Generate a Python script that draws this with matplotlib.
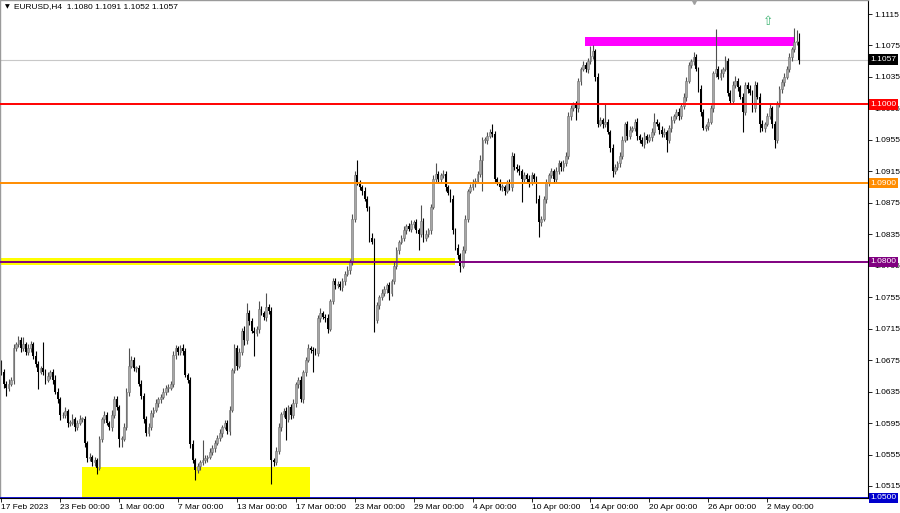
import numpy as np
import matplotlib.pyplot as plt
import matplotlib.transforms as mtransforms
from matplotlib.patches import Rectangle

plt.rcParams['font.family'] = ['Liberation Sans', 'DejaVu Sans']

# EURUSD H4 closes, in pips (1.0660 -> 10660), one per bar from 17 Feb 2023
closes = [
    10660, 10645, 10640, 10645, 10650, 10690, 10695, 10700, 10690, 10695,
    10685, 10690, 10695, 10680, 10670, 10660, 10665, 10660, 10650, 10655,
    10660, 10650, 10635, 10625, 10605, 10605, 10610, 10595, 10595, 10600,
    10590, 10595, 10600, 10600, 10570, 10550, 10552, 10545, 10548, 10538,
    10575, 10600, 10605, 10595, 10590, 10605, 10625, 10615, 10575, 10575,
    10590, 10635, 10668, 10675, 10665, 10665, 10645, 10630, 10600, 10582,
    10590, 10608, 10612, 10620, 10625, 10628, 10635, 10640, 10640, 10645,
    10682, 10690, 10685, 10690, 10686, 10656, 10650, 10568, 10548, 10535,
    10540, 10545, 10548, 10550, 10552, 10558, 10563, 10570, 10576, 10582,
    10590, 10595, 10585, 10612, 10662, 10690, 10668, 10685, 10712, 10700,
    10735, 10725, 10712, 10710, 10714, 10740, 10735, 10730, 10742, 10738,
    10548, 10545, 10560, 10590, 10606, 10610, 10600, 10615, 10605, 10620,
    10644, 10650, 10625, 10660, 10675, 10690, 10688, 10686, 10684, 10728,
    10735, 10730, 10728, 10715, 10750, 10775, 10770, 10772, 10768, 10775,
    10785, 10790, 10800, 10855, 10910, 10900, 10895, 10890, 10880, 10868,
    10830, 10825, 10726, 10745, 10755, 10760, 10765, 10770, 10760, 10775,
    10795, 10815, 10825, 10830, 10840, 10845, 10842, 10848, 10850, 10840,
    10835, 10852, 10830, 10835, 10840, 10870, 10905, 10912, 10905, 10910,
    10912, 10895, 10888, 10880, 10840, 10818, 10808, 10795, 10815, 10855,
    10890, 10895, 10900, 10903, 10912, 10930, 10955, 10955, 10960, 10965,
    10962, 10905, 10900, 10895, 10895, 10890, 10900, 10895, 10935, 10920,
    10918, 10915, 10905, 10910, 10905, 10900, 10910, 10905, 10880, 10850,
    10855, 10880, 10900, 10910, 10915, 10905, 10915, 10925, 10920, 10925,
    10935, 10985, 10995, 11000, 10995, 11030, 11045, 11050, 11045, 11055,
    11062, 11068, 11035, 10975, 10980, 10975, 10978, 10965, 10945, 10915,
    10920, 10925, 10935, 10955, 10975, 10960, 10968, 10970, 10978, 10960,
    10955, 10950, 10960, 10955, 10958, 10965, 10978, 10975, 10968, 10962,
    10965, 10955, 10970, 10980, 10985, 10990, 10985, 10998, 11010, 11030,
    11050, 11055, 11060, 11045, 11020, 10990, 10970, 10972, 10978, 10995,
    11040, 11045, 11035, 11040, 11045, 11055, 11015, 11005, 11025, 11030,
    11022, 11010, 10990, 11025, 11020, 11015, 10995, 11025, 11010, 10975,
    10970, 10975, 10985, 10995, 10975, 10955, 11000, 11020, 11028, 11035,
    11045, 11060, 11070, 11080, 11080, 11057,
]
first_open = 10670

# wick length above / below the body, in pips
wick_up = [
    5, 4, 3, 6, 4, 5, 3, 6, 4, 10, 3, 5, 4, 3, 6, 4, 3, 33, 4, 5,
    3, 4, 6, 5, 3, 4, 5, 3, 4, 6, 3, 4, 5, 3, 4, 2, 5, 3, 4, 3,
    4, 3, 5, 4, 3, 6, 5, 4, 3, 4, 5, 4, 22, 5, 4, 3, 4, 5, 3, 4,
    5, 3, 4, 6, 3, 4, 5, 3, 4, 3, 5, 4, 3, 4, 5, 4, 3, 4, 5, 3,
    4, 3, 25, 4, 3, 5, 4, 3, 4, 5, 3, 4, 4, 5, 3, 6, 4, 5, 4, 6,
    13, 4, 3, 5, 4, 10, 4, 3, 18, 4, 5, 3, 4, 5, 3, 4, 5, 3, 4, 5,
    3, 4, 5, 3, 4, 6, 3, 4, 5, 4, 6, 3, 4, 5, 3, 4, 5, 3, 4, 4,
    3, 5, 4, 6, 5, 19, 4, 3, 5, 4, 3, 6, 5, 4, 3, 5, 4, 3, 4, 3,
    5, 4, 3, 4, 5, 3, 4, 5, 3, 4, 3, 20, 4, 5, 3, 4, 5, 13, 4, 3,
    5, 4, 3, 4, 5, 3, 4, 3, 5, 4, 3, 4, 5, 3, 4, 6, 4, 3, 5, 4,
    10, 4, 3, 5, 4, 3, 4, 5, 5, 3, 4, 5, 3, 4, 3, 5, 4, 3, 4, 5,
    3, 4, 5, 3, 4, 3, 5, 4, 3, 4, 5, 6, 4, 3, 5, 4, 3, 5, 4, 4,
    12, 7, 3, 5, 4, 3, 22, 4, 3, 5, 4, 3, 4, 5, 3, 4, 5, 3, 4, 5,
    3, 4, 5, 3, 4, 5, 11, 4, 3, 4, 5, 3, 4, 5, 3, 4, 5, 3, 4, 5,
    4, 3, 7, 4, 3, 5, 4, 3, 5, 4, 3, 51, 4, 5, 3, 6, 4, 3, 5, 6,
    4, 3, 5, 4, 3, 5, 4, 5, 3, 4, 5, 3, 4, 5, 3, 4, 5, 3, 4, 5,
    4, 5, 3, 17, 15, 11,
]
wick_dn = [
    4, 5, 10, 4, 3, 5, 4, 3, 5, 4, 3, 4, 5, 3, 4, 22, 3, 4, 5, 3,
    4, 5, 3, 4, 6, 3, 4, 5, 4, 3, 5, 4, 3, 4, 5, 4, 3, 5, 4, 8,
    3, 4, 5, 3, 4, 5, 3, 4, 10, 10, 3, 4, 5, 3, 4, 5, 3, 4, 5, 4,
    3, 4, 5, 3, 4, 5, 3, 4, 5, 3, 4, 5, 3, 4, 5, 3, 4, 5, 4, 12,
    4, 5, 3, 4, 5, 3, 4, 5, 3, 4, 5, 3, 4, 5, 3, 4, 5, 3, 4, 6,
    4, 5, 3, 30, 4, 5, 3, 4, 5, 4, 30, 5, 3, 4, 5, 3, 27, 4, 5, 3,
    4, 5, 3, 4, 5, 3, 4, 26, 3, 4, 5, 3, 4, 5, 3, 4, 5, 3, 4, 5,
    4, 3, 5, 4, 5, 3, 4, 5, 3, 4, 5, 3, 15, 4, 5, 3, 4, 5, 9, 4,
    3, 4, 5, 3, 4, 5, 3, 4, 5, 3, 20, 4, 5, 3, 4, 5, 3, 4, 5, 3,
    4, 5, 3, 4, 5, 3, 4, 8, 3, 4, 5, 3, 4, 5, 3, 4, 40, 4, 5, 3,
    4, 5, 3, 4, 5, 5, 3, 4, 5, 3, 4, 5, 29, 3, 4, 5, 3, 4, 5, 18,
    4, 3, 5, 4, 3, 5, 4, 3, 5, 4, 3, 4, 5, 3, 15, 4, 5, 3, 4, 5,
    3, 4, 5, 4, 3, 5, 4, 3, 5, 7, 4, 3, 5, 4, 3, 5, 4, 3, 4, 5,
    4, 3, 5, 4, 3, 5, 4, 3, 5, 4, 3, 15, 4, 5, 3, 4, 5, 3, 4, 5,
    3, 4, 5, 3, 4, 5, 3, 4, 5, 3, 4, 5, 3, 4, 5, 3, 4, 5, 3, 4,
    5, 3, 25, 4, 5, 3, 4, 5, 3, 10, 4, 5, 3, 4, 5, 10, 4, 3, 5, 4,
    3, 4, 5, 3, 4, 5,
]

x_tick_bars = [0, 24, 48, 72, 96, 120, 144, 168, 192, 216, 240, 264, 288, 312]
x_tick_labels = ["17 Feb 2023", "23 Feb 00:00", "1 Mar 00:00", "7 Mar 00:00",
                 "13 Mar 00:00", "17 Mar 00:00", "23 Mar 00:00", "29 Mar 00:00",
                 "4 Apr 00:00", "10 Apr 00:00", "14 Apr 00:00", "20 Apr 00:00",
                 "26 Apr 00:00", "2 May 00:00"]
y_ticks = [1.1115, 1.1075, 1.1035, 1.0995, 1.0955, 1.0915, 1.0875, 1.0835,
           1.0795, 1.0755, 1.0715, 1.0675, 1.0635, 1.0595, 1.0555, 1.0515]

levels = [1.1000, 1.0900, 1.0800, 1.0500]
level_colors = ["#ff0000", "#ff8c00", "#800080", "#0000cd"]
current_price = 1.1057
header = "EURUSD,H4  1.1080 1.1091 1.1052 1.1057"

# zones: (bar from, bar to, price low, price high, colour)
zones = [
    (33.0, 125.8, 1.0500, 1.0539, "#ffff00"),
    (-0.5, 184.9, 1.07965, 1.0805, "#ffff00"),
    (237.8, 323.4, 1.1074, 1.1086, "#ff00ff"),
]
arrow_bar, arrow_price = 312.4, 1.1105
shift_bar = 282

close = np.array(closes) / 10000.0
opn = np.concatenate([[first_open / 10000.0], close[:-1]])
high = np.maximum(opn, close) + np.array(wick_up) / 10000.0
low = np.minimum(opn, close) - np.array(wick_dn) / 10000.0
idx = np.arange(len(close))

fig = plt.figure(figsize=(9, 5.13), dpi=100)
ax = fig.add_axes([0, 15 / 513, 868 / 900, 498 / 513])
ax.set_xlim(-0.5, 353.06)
ax.set_ylim(1.04997, 1.11328)

for x0, x1, y0, y1, c in zones:
    ax.add_patch(Rectangle((x0, y0), x1 - x0, y1 - y0, color=c, lw=0, zorder=1))

up = close >= opn
body = np.maximum(np.abs(close - opn), 0.00008)
ax.vlines(idx[up], low[up], high[up], color="#505050", lw=0.8, zorder=2)
ax.vlines(idx[~up], low[~up], high[~up], color="#000000", lw=0.8, zorder=2)
ax.bar(idx[up], body[up], bottom=opn[up], width=0.72, color="#a6a6a6",
       edgecolor="#707070", linewidth=0.4, zorder=2.1)
ax.bar(idx[~up], body[~up], bottom=close[~up], width=0.72, color="#000000",
       linewidth=0, zorder=2.1)

ax.axhline(current_price, color="#c8c8c8", lw=0.8, zorder=1.5)
for lv, c in zip(levels, level_colors):
    ax.axhline(lv, color=c, lw=1.4 if lv > 1.05 else 2.0, zorder=3)

ax.text(arrow_bar, arrow_price, "\u21e7", color="#3cb371", fontsize=9,
        ha="center", va="center", zorder=4, family="DejaVu Sans")
ax.plot([shift_bar], [1.1131], marker="v", color="#a0a0a0", ms=5,
        clip_on=False, zorder=4)

# right price scale
ax.yaxis.tick_right()
ax.set_yticks(y_ticks)
ax.set_yticklabels([f"{v:.4f}" for v in y_ticks])
ax.tick_params(axis="y", length=3, width=0.6, labelsize=6.0, pad=1.5,
               colors="#000000")
ax.set_xticks(x_tick_bars)
ax.set_xticklabels(x_tick_labels, ha="left")
ax.tick_params(axis="x", length=3, width=0.6, labelsize=6.0, pad=1.5)

trans = mtransforms.blended_transform_factory(ax.transAxes, ax.transData)
label_boxes = [(current_price, "#000000")] + list(zip(levels, level_colors))
for lv, c in label_boxes:
    ax.text(1.003, lv, f"{lv:.4f}", transform=trans, fontsize=6.0,
            color="white", ha="left", va="center", clip_on=False, zorder=5,
            bbox=dict(boxstyle="square,pad=0.2", fc=c, ec="none"))

for s in ["left", "top"]:
    ax.spines[s].set_color("#9a9a9a")
    ax.spines[s].set_linewidth(1.0)
ax.spines["right"].set_color("#000000")
ax.spines["right"].set_linewidth(0.8)
ax.spines["bottom"].set_color("#000000")
ax.spines["bottom"].set_linewidth(0.8)

fig.text(5 / 900, 1 - 7 / 513, "\u25bc", fontsize=4.5, va="center",
         family="DejaVu Sans")
fig.text(14 / 900, 1 - 7 / 513, header, fontsize=6.0, va="center")

fig.savefig("out.png", dpi=100)
